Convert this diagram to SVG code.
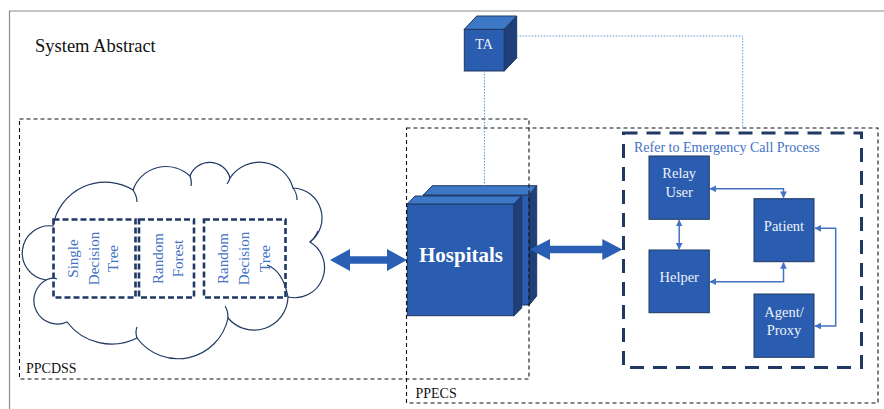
<svg xmlns="http://www.w3.org/2000/svg" width="884" height="409" viewBox="0 0 884 409">
<defs>
<style>
.serif{font-family:"Liberation Serif","Times New Roman",serif}
.frame{fill:none;stroke:#8c8c8c;stroke-width:1.2}
.cont{fill:none;stroke:#111;stroke-width:1.1;stroke-dasharray:4 3}
.algo{fill:none;stroke:#1f3864;stroke-width:2.6;stroke-dasharray:6 3}
.algotxt{font-size:15px;fill:#4472c4;text-anchor:middle}
.emerg{fill:none;stroke:#1f3864;stroke-width:3;stroke-dasharray:14 9}
.front{fill:#2a5db0;stroke:#1f3864;stroke-width:1}
.top{fill:#3c78c6;stroke:#1f3864;stroke-width:1}
.side{fill:#1f3f7a;stroke:#1f3864;stroke-width:1}
.node{fill:#2a5db0;stroke:#1f3864;stroke-width:1}
.ntxt{font-size:14.5px;fill:#eef2fa;text-anchor:middle}
.dot{fill:none;stroke:#5b9bd5;stroke-width:1;stroke-dasharray:1.5 1.5}
.link{fill:none;stroke:#4472c4;stroke-width:1.5;marker-start:url(#ah);marker-end:url(#ah)}
.big{fill:#2a5fb5}
.cloud{fill:#fff;stroke:#1f3864;stroke-width:1.2}
.hook{fill:none;stroke:#1f3864;stroke-width:1.2}
</style>
<marker id="ah" viewBox="0 0 10 10" refX="9" refY="5" markerWidth="4.5" markerHeight="4.5" orient="auto-start-reverse" markerUnits="strokeWidth">
<path d="M0,0 L10,5 L0,10 z" fill="#4472c4"/>
</marker>
</defs>
<rect width="884" height="409" fill="#fff"/>
<path class="frame" d="M9.5,409 V11 H884"/>
<text class="serif" x="35" y="52" font-size="18.5" fill="#111">System Abstract</text>

<g id="cloud">
<path class="cloud" d="M53,226 A27 27 0 0 0 46,280 A23.5 23.5 0 0 0 67,322 A56 56 0 0 0 137,338 A51 51 0 0 0 228,318 A34 34 0 0 0 288,297 A30 30 0 0 0 310,242 A30 30 0 0 0 293,188 A35 35 0 0 0 230,178 A21 21 0 0 0 190,176 A35 35 0 0 0 133,190 A53 53 0 0 0 53,226 Z"/>
<path class="hook" d="M133,190 q4,6 4,12 M190,176 q2,5 1,10 M230,178 q-1,3 -3,6 M293,188 q4,5 4,12 M310,242 q5,-4 8,-11 M288,297 Q283,271 267,265 M228,318 q0,-8 -3,-12 M137,338 q-2,-6 0,-11 M46,280 q6,-3 11,-1"/>
</g>

<g id="single-decision-tree">
<rect class="algo" x="53.5" y="219.5" width="82" height="78"/>
<text class="serif algotxt" transform="rotate(-90)"><tspan x="-258.5" y="78">Single</tspan><tspan x="-258.5" y="98.5">Decision</tspan><tspan x="-258.5" y="118">Tree</tspan></text>
</g>
<g id="random-forest">
<rect class="algo" x="139" y="219.5" width="55" height="78"/>
<text class="serif algotxt" transform="rotate(-90)"><tspan x="-258.5" y="162.7">Random</tspan><tspan x="-258.5" y="183.3">Forest</tspan></text>
</g>
<g id="random-decision-tree">
<rect class="algo" x="204" y="219.5" width="81.5" height="78"/>
<text class="serif algotxt" transform="rotate(-90)"><tspan x="-258.5" y="228">Random</tspan><tspan x="-258.5" y="249">Decision</tspan><tspan x="-258.5" y="270">Tree</tspan></text>
</g>

<g id="ta">
<rect class="front" x="464.3" y="29.3" width="40" height="41.7"/>
<polygon class="top" points="464.3,29.3 476.7,16 516.7,16 504.3,29.3"/>
<polygon class="side" points="504.3,29.3 516.7,16 516.7,58 504.3,71"/>
<text class="serif" x="484" y="49.3" font-size="14.5" fill="#e6ecf7" text-anchor="middle">TA</text>
</g>

<g id="hospitals">
<rect class="front" x="423.3" y="195" width="106" height="110"/>
<polygon class="top" points="423.3,195 432.3,185.7 536.7,185.7 529.3,195"/>
<polygon class="side" points="529.3,195 536.7,185.7 536.7,296 529.3,305"/>
<rect class="front" x="407.3" y="204" width="106.7" height="111.7"/>
<polygon class="top" points="407.3,204 415,196 521.7,196 514,204"/>
<polygon class="side" points="514,204 521.7,196 521.7,308 514,315.7"/>
<text class="serif" x="461" y="262" font-size="21" font-weight="bold" fill="#fff" text-anchor="middle">Hospitals</text>
</g>

<g id="ppcdss">
<rect class="cont" x="19.5" y="119" width="509.5" height="260"/>
<text class="serif" x="26" y="373" font-size="14" fill="#111">PPCDSS</text>
</g>
<g id="ppecs">
<rect class="cont" x="406.5" y="128" width="471.5" height="275"/>
<text class="serif" x="415.5" y="397.5" font-size="14" fill="#111">PPECS</text>
</g>

<g id="emergency">
<rect class="emerg" x="623.5" y="133" width="238" height="234.5"/>
<text class="serif" x="634" y="152.3" font-size="14" fill="#4472c4">Refer to Emergency Call Process</text>
</g>
<g id="relay-user">
<rect class="node" x="649" y="156" width="60.3" height="63.3"/>
<text class="serif ntxt"><tspan x="679.2" y="178.3">Relay</tspan><tspan x="679.2" y="196.7">User</tspan></text>
</g>
<g id="helper">
<rect class="node" x="649" y="250" width="60.3" height="62.7"/>
<text class="serif ntxt" x="679.2" y="281.5">Helper</text>
</g>
<g id="patient">
<rect class="node" x="754" y="198.7" width="60" height="63"/>
<text class="serif ntxt" x="784" y="230.5">Patient</text>
</g>
<g id="agent-proxy">
<rect class="node" x="754" y="294" width="60" height="63.3"/>
<text class="serif ntxt"><tspan x="784" y="316.7">Agent/</tspan><tspan x="784" y="334.5">Proxy</tspan></text>
</g>

<g id="connectors">
<path class="dot" d="M516.7,36 H742.7 V128"/>
<path class="dot" d="M484.5,71 V185.7"/>
<polygon class="big" points="330,260 350,249 350,256.3 387,256.3 387,249 407,260 387,271 387,263.7 350,263.7 350,271"/>
<polygon class="big" points="530,249.5 550,239 550,245.8 602.3,245.8 602.3,239 622.3,249.5 602.3,260 602.3,253.2 550,253.2 550,260"/>
<path class="link" d="M710,188.8 H783.5 V197.5"/>
<path class="link" d="M679.2,220.3 V249"/>
<path class="link" d="M710,281.7 H783.5 V262.7"/>
<path class="link" d="M815,228.3 H835.7 V326 H815"/>
</g>
</svg>
